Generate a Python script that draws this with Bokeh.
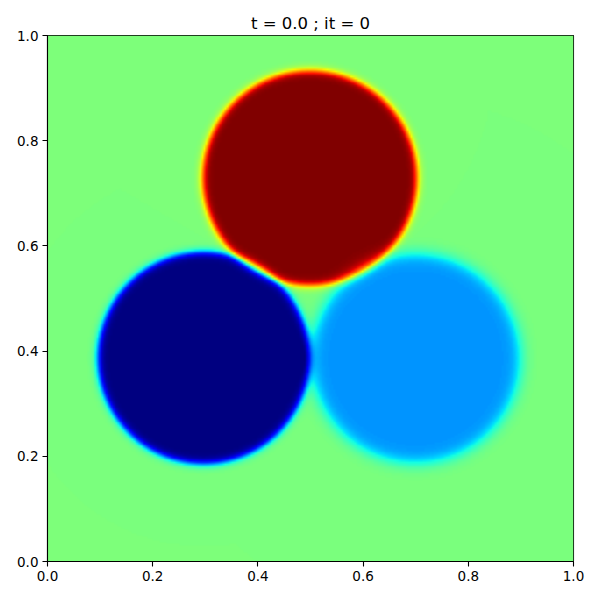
import numpy as np
from bokeh.plotting import figure
from bokeh.models import Range1d, LinearColorMapper, FixedTicker, PrintfTickFormatter
from bokeh.embed import file_html
from bokeh.resources import INLINE

# --- data: three phase-field droplets on a background level ---
drop_cx = [0.499, 0.297, 0.700]
drop_cy = [0.729, 0.387, 0.386]
drop_r = [0.2045, 0.2015, 0.199]
drop_value = [1.0, 0.0, 0.27]
drop_width = [0.0085, 0.0085, 0.016]
background_value = 0.5
grid_n = 300
tick_values = [0.0, 0.2, 0.4, 0.6, 0.8, 1.0]
title_text = "t = 0.0 ; it = 0"

# jet colormap (matplotlib segment definition)
jet_red = [(0.0, 0.0), (0.35, 0.0), (0.66, 1.0), (0.89, 1.0), (1.0, 0.5)]
jet_green = [(0.0, 0.0), (0.125, 0.0), (0.375, 1.0), (0.64, 1.0), (0.91, 0.0), (1.0, 0.0)]
jet_blue = [(0.0, 0.5), (0.11, 1.0), (0.34, 1.0), (0.65, 0.0), (1.0, 0.0)]


def channel(seg, t):
    xs = [a for a, b in seg]
    ys = [b for a, b in seg]
    return np.interp(t, xs, ys)


t = np.linspace(0, 1, 256)
R, G, B = channel(jet_red, t), channel(jet_green, t), channel(jet_blue, t)
jet = ["#%02x%02x%02x" % (int(round(r * 255)), int(round(g * 255)), int(round(b * 255)))
       for r, g, b in zip(R, G, B)]

# field: background plus each droplet's tanh-profiled contribution
c = (np.arange(grid_n) + 0.5) / grid_n
X, Y = np.meshgrid(c, c)
field = np.full_like(X, background_value)
for cx, cy, rr, w, v in zip(drop_cx, drop_cy, drop_r, drop_width, drop_value):
    dist = np.sqrt((X - cx) ** 2 + (Y - cy) ** 2)
    phi = 0.5 * (1.0 - np.tanh((dist - rr) / w))
    field = field + phi * (v - background_value)
field = np.clip(field, 0.0, 1.0)

p = figure(frame_width=526, frame_height=526,
           x_range=Range1d(0, 1), y_range=Range1d(0, 1),
           output_backend="svg", toolbar_location=None,
           min_border_left=47, min_border_right=19, min_border_top=35, min_border_bottom=31,
           background_fill_color="white", border_fill_color="white")

mapper = LinearColorMapper(palette=jet, low=0.0, high=1.0)
p.image(image=[field], x=0, y=0, dw=1, dh=1, color_mapper=mapper)

p.title.text = title_text
p.title.align = "center"
p.title.text_font = "DejaVu Sans"
p.title.text_font_size = "16.5px"
p.title.text_font_style = "normal"
p.title.text_color = "black"
p.title.offset = 0
p.title.standoff = 6

p.grid.visible = False
p.outline_line_color = "black"
p.outline_line_width = 1.1

for ax in (p.xaxis[0], p.yaxis[0]):
    ax.ticker = FixedTicker(ticks=tick_values)
    ax.formatter = PrintfTickFormatter(format="%.1f")
    ax.major_label_text_font = "DejaVu Sans"
    ax.major_label_text_font_size = "13.5px"
    ax.major_label_text_color = "black"
    ax.major_tick_out = 5
    ax.major_tick_in = 0
    ax.major_tick_line_width = 1.1
    ax.major_tick_line_color = "black"
    ax.minor_tick_line_color = None
    ax.axis_line_color = "black"
    ax.axis_line_width = 1.1
    ax.major_label_standoff = 4

open("out.html", "w").write(file_html(p, INLINE))
